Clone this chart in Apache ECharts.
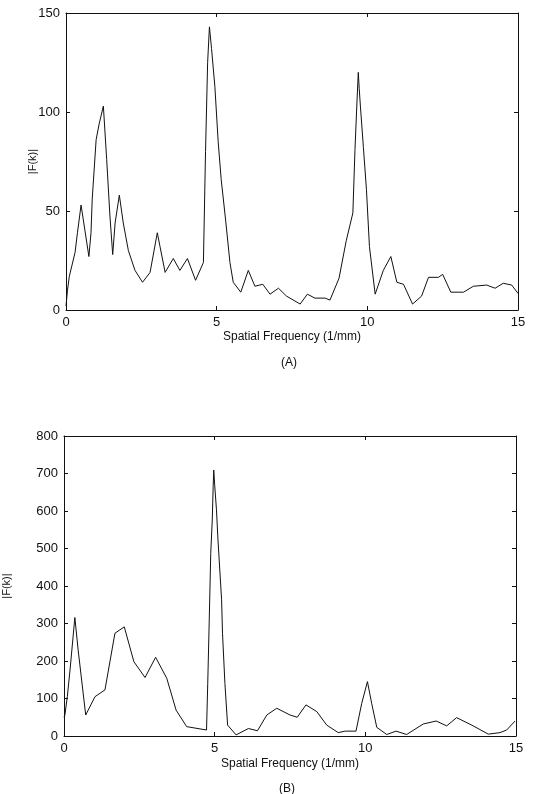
<!DOCTYPE html>
<html>
<head>
<meta charset="utf-8">
<title>Spatial Frequency</title>
<script src="https://cdn.jsdelivr.net/npm/echarts@6/dist/echarts.min.js"></script>
<style>
  html, body { margin: 0; padding: 0; background: #fff; }
  #main { width: 535px; height: 794px; }
</style>
</head>
<body>
<div id="main"></div>
<script>
// panel (A)
var freqA = [0, 0.05, 0.11, 0.3, 0.38, 0.5, 0.63, 0.76, 0.83, 0.87, 1.0, 1.1, 1.24, 1.35, 1.46, 1.55, 1.63, 1.77, 1.9, 2.07,
  2.29, 2.54, 2.79, 3.03, 3.12, 3.29, 3.56, 3.78, 4.03, 4.3, 4.56, 4.63, 4.7, 4.76, 4.83, 4.94, 5.05, 5.15, 5.3, 5.44,
  5.55, 5.8, 6.05, 6.27, 6.53, 6.77, 7.05, 7.32, 7.77, 8.01, 8.26, 8.6, 8.76, 9.06, 9.3, 9.52, 9.59, 9.65, 9.7, 9.73,
  9.77, 9.87, 9.97, 10.07, 10.26, 10.53, 10.78, 10.98, 11.2, 11.5, 11.8, 12.03, 12.36, 12.5, 12.77, 13.19, 13.52, 13.96, 14.24, 14.51,
  14.79, 15];
var magA = [2, 10, 17, 29, 39, 53, 40, 27, 39, 56, 86, 94, 103, 76, 47, 28, 44, 58, 44, 30,
  20, 14, 19, 39, 32, 19, 26, 20, 26, 15, 24, 80, 125, 143, 132, 113, 85, 66, 45, 24,
  14, 9, 20, 12, 13, 8, 11, 7, 3, 8, 6, 6, 5, 16, 35, 49, 81, 103, 120, 112,
  103, 82, 61, 32, 8, 20, 27, 14, 13, 3, 7, 16.5, 16.5, 18, 9, 9, 12, 12.6, 11, 13.5,
  12.6, 8.4];

// panel (B)
var freqB = [0, 0.03, 0.11, 0.2, 0.36, 0.47, 0.72, 1.03, 1.36, 1.69, 2.0, 2.32, 2.69, 3.04, 3.41, 3.72, 4.07, 4.73, 4.77, 4.82,
  4.87, 4.92, 4.95, 4.97, 5.0, 5.04, 5.06, 5.11, 5.23, 5.26, 5.34, 5.43, 5.71, 6.12, 6.42, 6.73, 7.06, 7.5, 7.74, 8.03,
  8.39, 8.72, 9.1, 9.33, 9.69, 9.88, 10.07, 10.21, 10.38, 10.71, 11.02, 11.37, 11.92, 12.35, 12.7, 13.03, 13.58, 14.08, 14.47, 14.69,
  14.97];
var magB = [50, 56, 105, 176, 316, 229, 56, 105, 123, 274, 291, 198, 156, 210, 154, 69, 25, 16, 140, 309,
  487, 576, 665, 709, 670, 665, 603, 523, 363, 274, 140, 29, 3, 20, 14, 56, 74, 56, 50, 83,
  65, 29, 9, 13, 13, 87, 145, 87, 23, 4, 13, 4, 32, 40, 27, 49, 27, 5, 9, 16,
  40];

var xTicks = [0, 5, 10, 15];
var yTicksA = [0, 50, 100, 150];
var yTicksB = [0, 100, 200, 300, 400, 500, 600, 700, 800];

var xTitle = 'Spatial Frequency (1/mm)';
var yTitle = '|F(k)|';
var panelNames = ['(A)', '(B)'];

function pairs(xs, ys) {
  return xs.map(function (x, i) { return [x, ys[i]]; });
}

var ink = '#111';
var font = 'Liberation Sans';

// main axis (labels) + mirror axis (ticks only) for each side
function xAxisFor(gridIndex, gap) {
  var base = {
    type: 'value', gridIndex: gridIndex,
    min: xTicks[0], max: xTicks[xTicks.length - 1], interval: 5,
    axisLine: { show: true, onZero: false, lineStyle: { color: ink, width: 1 } },
    axisTick: { show: true, inside: true, length: 4, lineStyle: { color: ink } },
    splitLine: { show: false }
  };
  var bottom = Object.assign({}, base, {
    position: 'bottom',
    axisLabel: { color: ink, fontFamily: font, fontSize: 13, margin: 6 },
    name: xTitle, nameLocation: 'middle', nameGap: gap, nameMoveOverlap: false,
    nameTextStyle: { color: ink, fontFamily: font, fontSize: 12 }
  });
  var top = Object.assign({}, base, { position: 'top', axisLabel: { show: false } });
  return [bottom, top];
}

function yAxisFor(gridIndex, ticks, interval, gap) {
  var base = {
    type: 'value', gridIndex: gridIndex,
    min: ticks[0], max: ticks[ticks.length - 1], interval: interval,
    axisLine: { show: true, onZero: false, lineStyle: { color: ink, width: 1 } },
    axisTick: { show: true, inside: true, length: 4, lineStyle: { color: ink } },
    splitLine: { show: false }
  };
  var left = Object.assign({}, base, {
    position: 'left',
    axisLabel: { color: ink, fontFamily: font, fontSize: 13, margin: 6 },
    name: yTitle, nameLocation: 'middle', nameGap: gap, nameRotate: 90, nameMoveOverlap: false,
    nameTextStyle: { color: ink, fontFamily: font, fontSize: 11 }
  });
  var right = Object.assign({}, base, { position: 'right', axisLabel: { show: false } });
  return [left, right];
}

var chart = echarts.init(document.getElementById('main'), null, { renderer: 'canvas' });

var option = {
  backgroundColor: '#fff',
  animation: false,
  grid: [
    { left: 66, top: 13, width: 452, height: 297, outerBoundsMode: 'none' },
    { left: 64, top: 436, width: 452, height: 300, outerBoundsMode: 'none' }
  ],
  xAxis: xAxisFor(0, 21).concat(xAxisFor(1, 22)),
  yAxis: yAxisFor(0, yTicksA, 50, 28).concat(yAxisFor(1, yTicksB, 100, 52)),
  graphic: [
    { type: 'text', left: 281, top: 357, style: { text: panelNames[0], fill: ink, font: '12px "Liberation Sans"' } },
    { type: 'text', left: 279, top: 783, style: { text: panelNames[1], fill: ink, font: '12px "Liberation Sans"' } }
  ],
  series: [
    {
      type: 'line', xAxisIndex: 0, yAxisIndex: 0,
      data: pairs(freqA, magA), showSymbol: false,
      lineStyle: { color: ink, width: 1 }
    },
    {
      type: 'line', xAxisIndex: 2, yAxisIndex: 2,
      data: pairs(freqB, magB), showSymbol: false,
      lineStyle: { color: ink, width: 1 }
    }
  ]
};

chart.setOption(option);
</script>
</body>
</html>
